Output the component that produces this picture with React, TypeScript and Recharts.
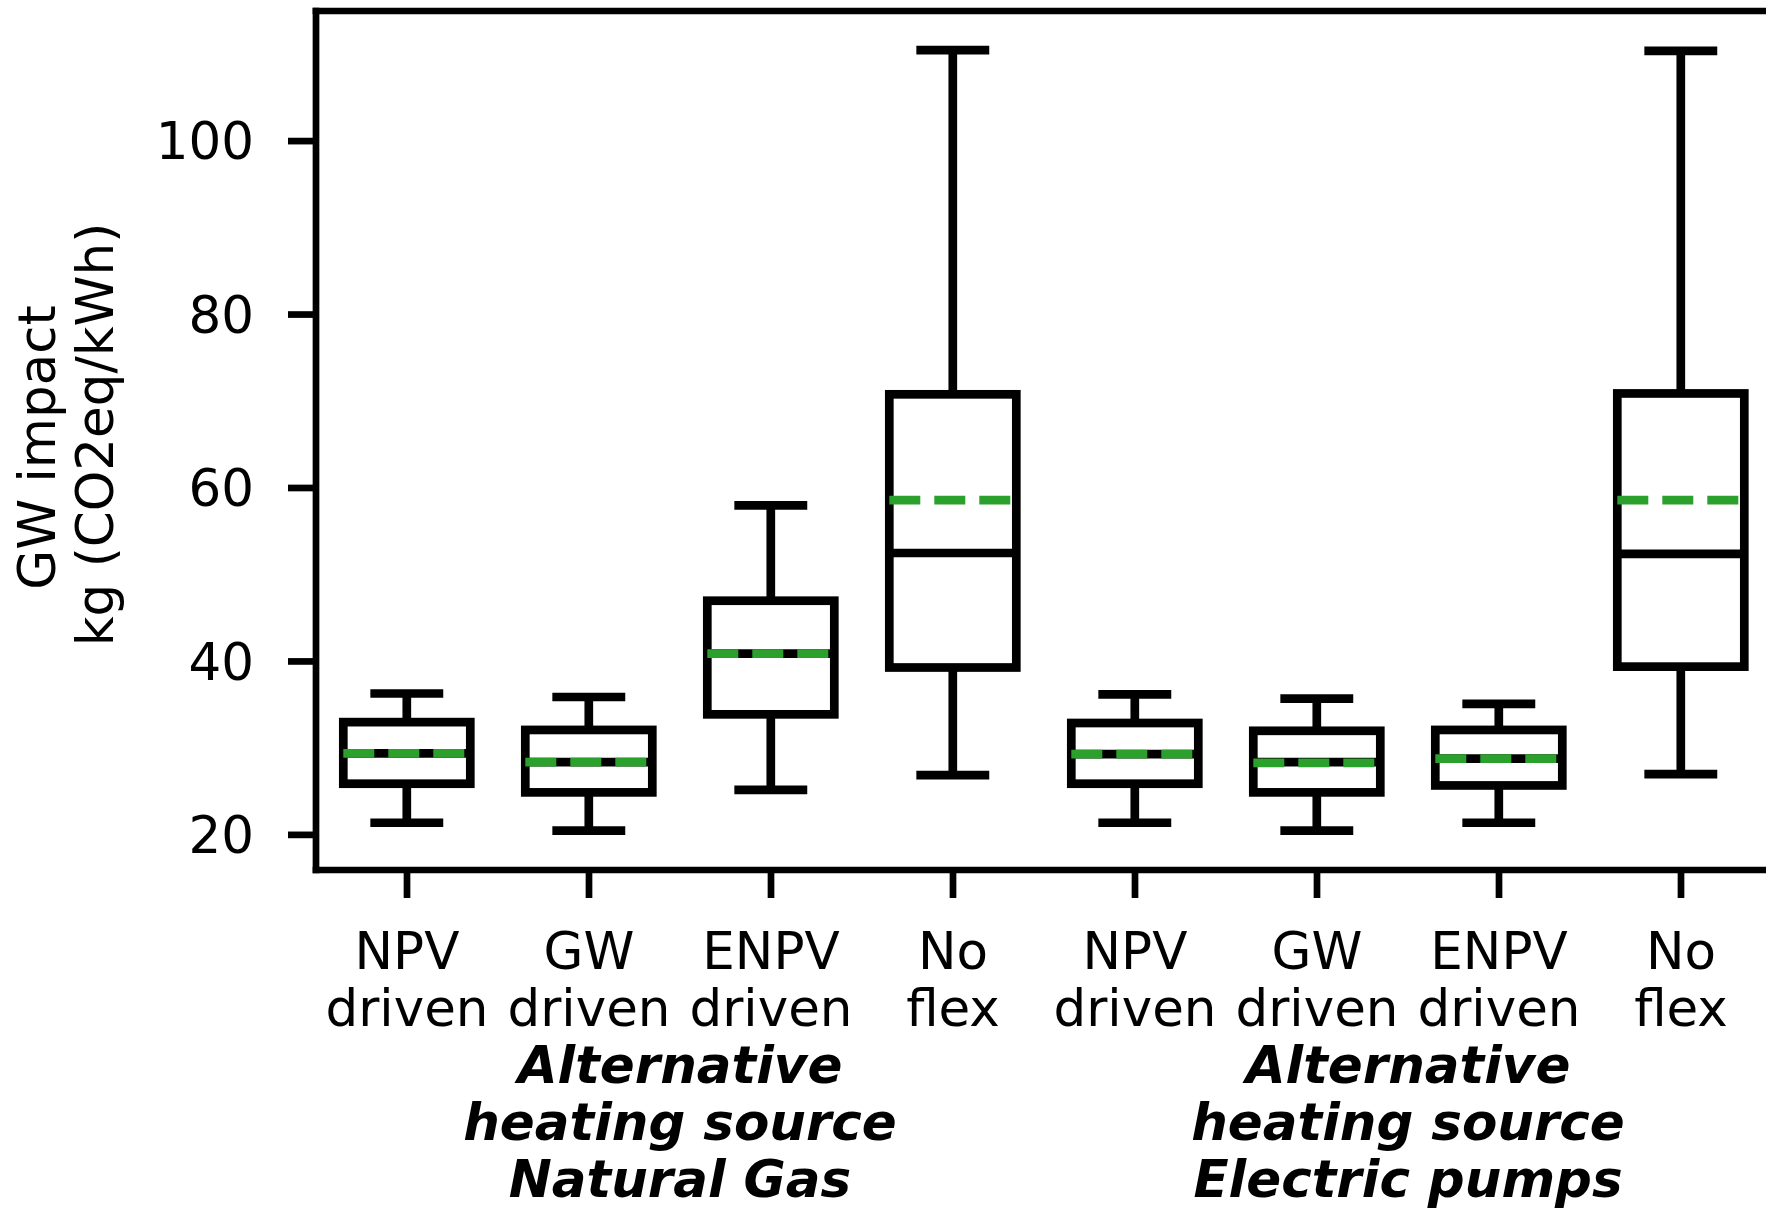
import React from 'react'
import { Bar, ComposedChart, XAxis, YAxis } from 'recharts'

// categories along the x axis (one box each)
const categories = [
  'NPV\ndriven', 'GW\ndriven', 'ENPV\ndriven', 'No\nflex',
  'NPV\ndriven', 'GW\ndriven', 'ENPV\ndriven', 'No\nflex'
]
// group labels, centred between the 2nd/3rd and 6th/7th boxes
const groupPositions = [2.5, 6.5]
const groupLabels = [
  'Alternative\nheating source\nNatural Gas',
  'Alternative\nheating source\nElectric pumps'
]

// box statistics, kg CO2eq/kWh
const whiskerLow = [21.4, 20.5, 25.2, 26.9, 21.4, 20.5, 21.4, 27.0]
const q1 = [25.9, 24.9, 33.9, 39.3, 25.9, 24.9, 25.7, 39.4]
const median = [29.4, 28.4, 40.9, 52.5, 29.3, 28.4, 28.8, 52.4]
const mean = [29.4, 28.4, 40.9, 58.6, 29.3, 28.3, 28.8, 58.6]
const q3 = [33.0, 32.1, 47.0, 70.8, 32.9, 32.0, 32.1, 70.9]
const whiskerHigh = [36.3, 35.9, 58.0, 110.5, 36.2, 35.7, 35.1, 110.4]

const yTicks = [20, 40, 60, 80, 100]
const yDomain = [15.95, 115.0]

const data = categories.map((label, i) => ({
  key: 'c' + i,
  label,
  pos: i + 1,
  whiskerLow: whiskerLow[i],
  q1: q1[i],
  median: median[i],
  mean: mean[i],
  q3: q3[i],
  whiskerHigh: whiskerHigh[i]
}))

const FONT = 'DejaVu Sans'
const FS = 51.5
const BOX_LW = 8.7
const AXIS_LW = 6.7

function BoxShape (props: any) {
  const { x, y, width, height, payload } = props
  const top = Math.min(y, y + height)
  const bot = Math.max(y, y + height)
  const span = payload.whiskerHigh - payload.whiskerLow
  const py = (v: number) => top + ((payload.whiskerHigh - v) / span) * (bot - top)
  const cx = x + width / 2
  const capHalf = width * 0.287
  const yQ1 = py(payload.q1)
  const yQ3 = py(payload.q3)
  return (
    <g>
      <line x1={cx} x2={cx} y1={top} y2={yQ3} stroke="#000" strokeWidth={BOX_LW} />
      <line x1={cx} x2={cx} y1={yQ1} y2={bot} stroke="#000" strokeWidth={BOX_LW} />
      <line x1={cx - capHalf} x2={cx + capHalf} y1={top} y2={top} stroke="#000" strokeWidth={BOX_LW} />
      <line x1={cx - capHalf} x2={cx + capHalf} y1={bot} y2={bot} stroke="#000" strokeWidth={BOX_LW} />
      <rect x={x} y={yQ3} width={width} height={yQ1 - yQ3} fill="none" stroke="#000" strokeWidth={BOX_LW} />
      <line x1={x} x2={x + width} y1={py(payload.median)} y2={py(payload.median)} stroke="#000" strokeWidth={BOX_LW} />
      <line x1={x} x2={x + width} y1={py(payload.mean)} y2={py(payload.mean)} stroke="#2ca02c" strokeWidth={BOX_LW} strokeDasharray="31 14" />
    </g>
  )
}

function CategoryTick (props: any) {
  const { x, y, index } = props
  const lines = categories[index].split('\n')
  return (
    <g>
      {lines.map((l, i) => (
        <text key={i} x={x} y={y + 71 + i * 57} textAnchor="middle" fontSize={FS} fontFamily={FONT} fill="#000">{l}</text>
      ))}
    </g>
  )
}

function GroupTick (props: any) {
  const { x, y, index } = props
  const lines = groupLabels[index].split('\n')
  return (
    <g>
      {lines.map((l, i) => (
        <text key={i} x={x} y={y + 63 + i * 57} textAnchor="middle" fontSize={FS} fontFamily={FONT}
          fontWeight="bold" fontStyle="italic" fill="#000">{l}</text>
      ))}
    </g>
  )
}

function YLabel (props: any) {
  const vb = props.viewBox || { x: 0, y: 0, width: 0, height: 0 }
  const cy = vb.y + vb.height / 2
  const x1 = 55
  const x2 = 113
  return (
    <g>
      <text x={x1} y={cy + 7} transform={`rotate(-90, ${x1}, ${cy + 7})`} textAnchor="middle" fontSize={FS} fontFamily={FONT} fill="#000">GW impact</text>
      <text x={x2} y={cy - 6} transform={`rotate(-90, ${x2}, ${cy - 6})`} textAnchor="middle" fontSize={FS} fontFamily={FONT} fill="#000">kg (CO2eq/kWh)</text>
    </g>
  )
}

const axisLine = { stroke: '#000', strokeWidth: AXIS_LW, strokeLinecap: 'square' as const }
const tickLine = { stroke: '#000', strokeWidth: AXIS_LW }

export default function App () {
  return (
    <div style={{ position: 'absolute', left: 0, top: 0, width: 1766, height: 1211, overflow: 'hidden', background: '#fff' }}>
      <ComposedChart width={1780} height={1211} data={data}
        margin={{ top: 10, right: 8, bottom: 1, left: 0 }} barCategoryGap="15%">
        <XAxis xAxisId="a_cat" dataKey="key" type="category" interval={0}
          tick={<CategoryTick />} tickSize={28} tickMargin={0} height={150}
          axisLine={axisLine} tickLine={tickLine} />
        <XAxis xAxisId="b_grp" dataKey="pos" type="number" domain={[0.5, 8.5]} allowDataOverflow
          ticks={groupPositions} interval={0} tick={<GroupTick />} tickSize={0} tickMargin={0}
          height={190} axisLine={false} tickLine={false} />
        <XAxis xAxisId="c_top" dataKey="key" orientation="top" height={1} interval={0}
          tick={false} axisLine={axisLine} tickLine={false} />
        <YAxis type="number" domain={yDomain} allowDataOverflow ticks={yTicks} interval={0}
          width={316} tickSize={28} tickMargin={34}
          tick={{ fontSize: FS, fill: '#000', fontFamily: FONT }}
          axisLine={axisLine} tickLine={tickLine}
          label={(p: any) => <YLabel {...p} />} />
        <Bar xAxisId="a_cat" dataKey={(d: any) => [d.whiskerLow, d.whiskerHigh]}
          shape={<BoxShape />} isAnimationActive={false} />
      </ComposedChart>
    </div>
  )
}
